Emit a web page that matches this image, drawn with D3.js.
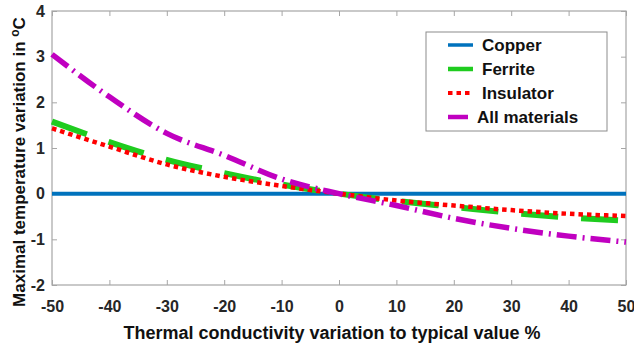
<!DOCTYPE html>
<html>
<head>
<meta charset="utf-8">
<script src="https://cdn.jsdelivr.net/npm/d3@7"></script>
<style>
  body { margin: 0; background: #fff; }
  text { font-family: "Liberation Sans", Arial, sans-serif; font-weight: bold; }
</style>
</head>
<body>
<div id="chart-area"></div>
<script>
// values
var xVals = [-50, -40, -30, -20, -10, 0, 10, 20, 30, 40, 50];
var copper = [0, 0, 0, 0, 0, 0, 0, 0, 0, 0, 0];
var ferrite = [1.58, 1.13, 0.74, 0.45, 0.20, 0, -0.16, -0.29, -0.42, -0.52, -0.59];
var insulator = [1.43, 1.03, 0.64, 0.37, 0.17, 0, -0.15, -0.26, -0.36, -0.44, -0.49];
var allMaterials = [3.05, 2.12, 1.32, 0.84, 0.32, 0, -0.26, -0.54, -0.76, -0.93, -1.06];
var xTicks = [-50, -40, -30, -20, -10, 0, 10, 20, 30, 40, 50];
var yTicks = [-2, -1, 0, 1, 2, 3, 4];

var def = {
    width: 634,
    height: 346,
    left: 52,
    top: 11,
    right: 626,
    bottom: 285
};

var svg = d3.select('#chart-area').append('svg')
    .attr('width', def.width)
    .attr('height', def.height);

var x = d3.scaleLinear().domain([-50, 50]).range([def.left, def.right]);
var y = d3.scaleLinear().domain([-2, 4]).range([def.bottom, def.top]);

// frame + ticks (matlab box style, ticks inside)
var axisCol = '#a6a6a6';
svg.append('rect')
    .attr('x', def.left).attr('y', def.top)
    .attr('width', def.right - def.left).attr('height', def.bottom - def.top)
    .attr('fill', 'none').attr('stroke', axisCol).attr('stroke-width', 1.2);

// plain hyphen minus like matlab
var fmt = function(d) { return String(d); };
var bottomAxis = svg.append('g')
    .attr('transform', 'translate(0,' + def.bottom + ')')
    .call(d3.axisBottom(x).tickValues(xTicks).tickSizeInner(-5).tickSizeOuter(0).tickPadding(16).tickFormat(fmt));
var topAxis = svg.append('g')
    .attr('transform', 'translate(0,' + def.top + ')')
    .call(d3.axisTop(x).tickValues(xTicks).tickSizeInner(-5).tickSizeOuter(0).tickFormat(''));
var leftAxis = svg.append('g')
    .attr('transform', 'translate(' + def.left + ',0)')
    .call(d3.axisLeft(y).tickValues(yTicks).tickSizeInner(-5).tickSizeOuter(0).tickPadding(7).tickFormat(fmt));
var rightAxis = svg.append('g')
    .attr('transform', 'translate(' + def.right + ',0)')
    .call(d3.axisRight(y).tickValues(yTicks).tickSizeInner(-5).tickSizeOuter(0).tickFormat(''));

[bottomAxis, topAxis, leftAxis, rightAxis].forEach(function(a) {
    a.select('.domain').remove();
    a.selectAll('line').attr('stroke', axisCol);
    a.selectAll('text')
        .attr('fill', '#262626')
        .style('font-size', '16px')
        .style('font-family', '"Liberation Sans", Arial, sans-serif')
        .style('font-weight', 'bold');
});

// labels
svg.append('text')
    .attr('x', 332).attr('y', 339)
    .attr('text-anchor', 'middle')
    .attr('font-size', '18px')
    .attr('fill', '#111')
    .text('Thermal conductivity variation to typical value %');

var yLab = svg.append('text')
    .attr('transform', 'translate(25,162) rotate(-90)')
    .attr('text-anchor', 'middle')
    .attr('font-size', '17px')
    .attr('fill', '#111');
yLab.append('tspan').text('Maximal temperature variation in ');
yLab.append('tspan').attr('dy', -6).attr('font-size', '12px').text('o');
yLab.append('tspan').attr('dy', 6).text('C');

// series
var series = [
    { name: 'Copper', vals: copper, color: '#0072bd', width: 4, dash: null, legDash: null },
    { name: 'Ferrite', vals: ferrite, color: '#1fcc1f', width: 6, dash: '37,23', legDash: null },
    { name: 'Insulator', vals: insulator, color: '#ff0000', width: 4.5, dash: '4.5,4', legDash: '4.5,4' },
    { name: 'All materials', vals: allMaterials, color: '#c000c0', width: 5.5, dash: '20,6,2,6', legDash: '20,5,2,6' }
];

var line = d3.line()
    .x(function(d) { return x(d[0]); })
    .y(function(d) { return y(d[1]); })
    .curve(d3.curveMonotoneX);

svg.append('g').selectAll('path')
    .data(series)
    .enter().append('path')
    .attr('d', function(s) { return line(xVals.map(function(v, i) { return [v, s.vals[i]]; })); })
    .attr('fill', 'none')
    .attr('stroke', function(s) { return s.color; })
    .attr('stroke-width', function(s) { return s.width; })
    .attr('stroke-dasharray', function(s) { return s.dash; });

// legend
var leg = svg.append('g');
leg.append('rect')
    .attr('x', 426).attr('y', 32).attr('width', 181).attr('height', 99)
    .attr('fill', '#fff').attr('stroke', '#8c8c8c').attr('stroke-width', 1);

var items = leg.selectAll('g.item')
    .data(series)
    .enter().append('g')
    .attr('class', 'item')
    .attr('transform', function(d, i) { return 'translate(0,' + (45 + i * 24) + ')'; });

items.append('line')
    .attr('x1', 448).attr('x2', 473)
    .attr('stroke', function(s) { return s.color; })
    .attr('stroke-width', function(s) { return Math.min(s.width, 5) - 0.5; })
    .attr('stroke-dasharray', function(s) { return s.legDash; });

items.append('text')
    .attr('x', function(s, i) { return i == 3 ? 477 : 482; })
    .attr('y', 6)
    .attr('font-size', '17px')
    .attr('fill', '#111')
    .text(function(s) { return s.name; });
</script>
</body>
</html>
